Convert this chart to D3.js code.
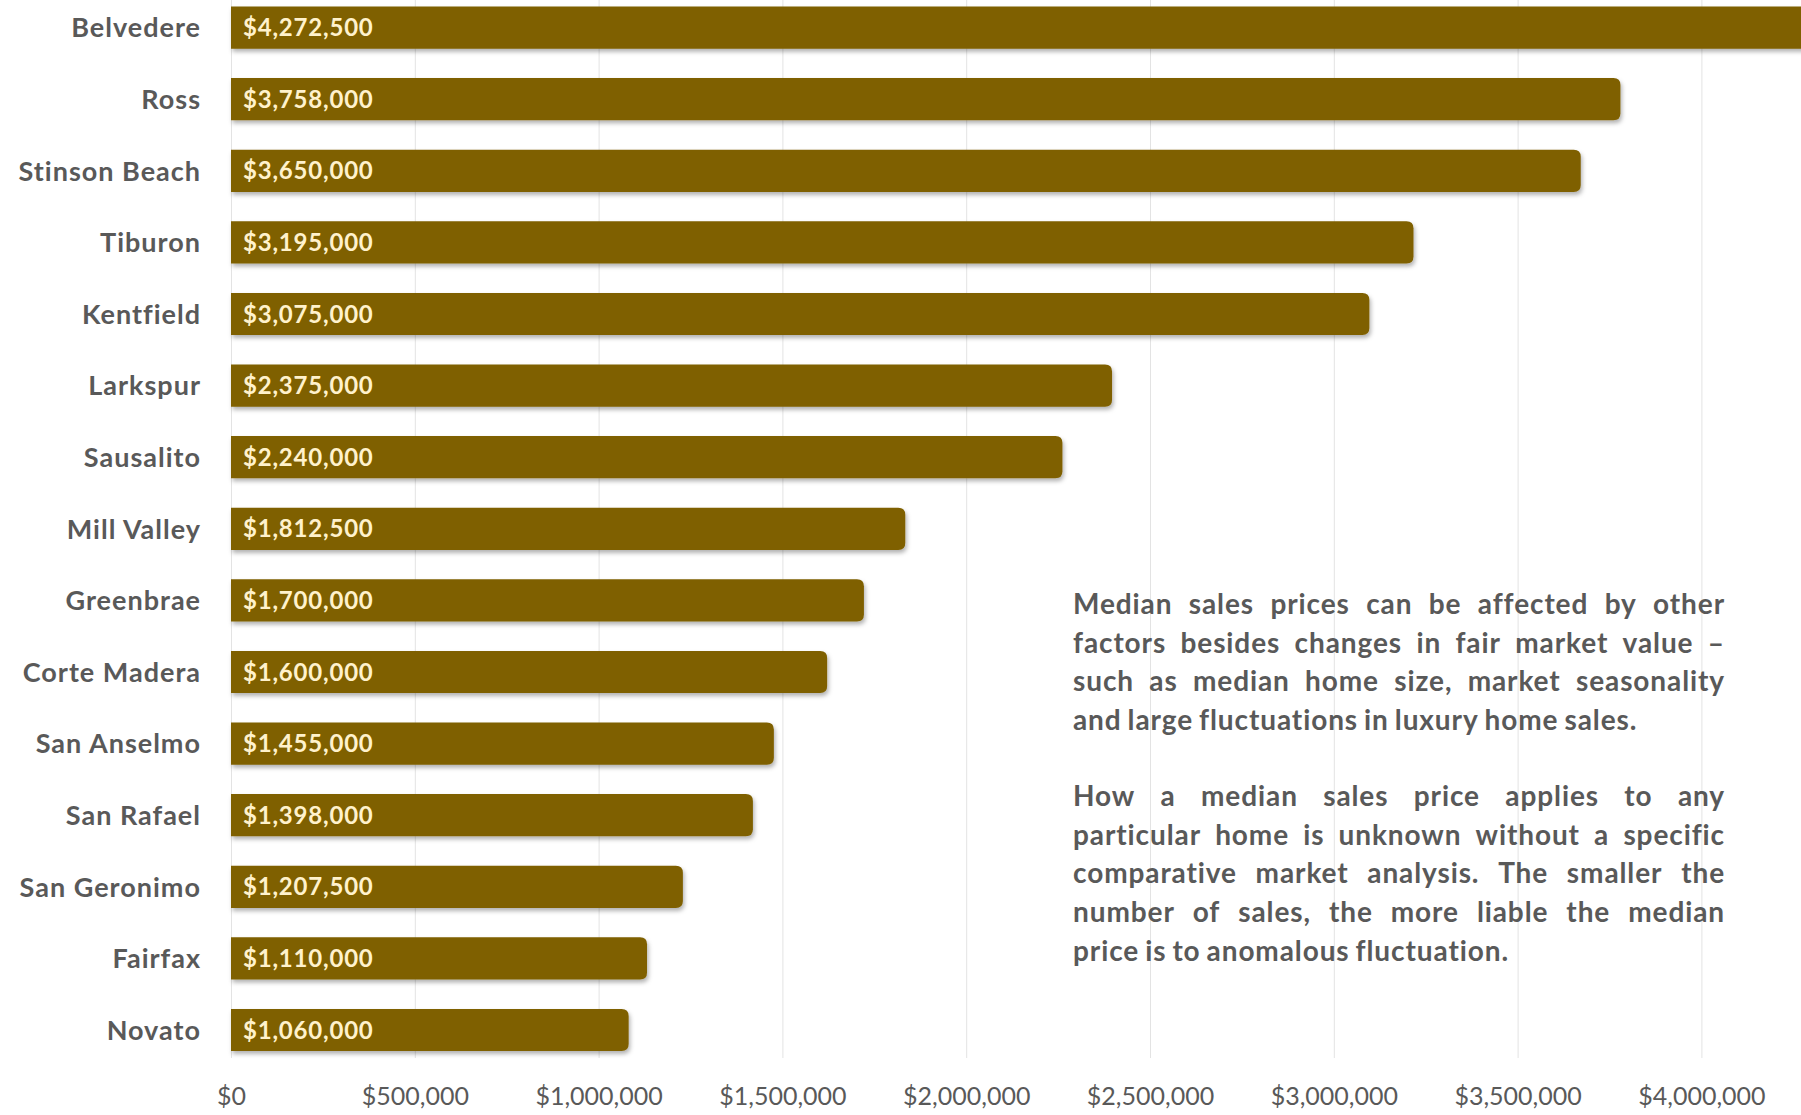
<!DOCTYPE html>
<html>
<head>
<meta charset="utf-8">
<script src="https://cdn.jsdelivr.net/npm/d3@7"></script>
<style>
  html, body { margin: 0; padding: 0; background: #fff; }
  svg { display: block; }
</style>
</head>
<body>
<svg id="chart" width="1801" height="1115"></svg>
<script>
// data
const towns = ["Belvedere", "Ross", "Stinson Beach", "Tiburon", "Kentfield", "Larkspur",
  "Sausalito", "Mill Valley", "Greenbrae", "Corte Madera", "San Anselmo", "San Rafael",
  "San Geronimo", "Fairfax", "Novato"];
const medianPrice = [4272500, 3758000, 3650000, 3195000, 3075000, 2375000,
  2240000, 1812500, 1700000, 1600000, 1455000, 1398000,
  1207500, 1110000, 1060000];
const xTicks = [0, 500000, 1000000, 1500000, 2000000, 2500000, 3000000, 3500000, 4000000];

const noteParagraphs = [
  ["Median sales prices can be affected by other",
   "factors besides changes in fair market value \u2013",
   "such as median home size, market seasonality",
   "and large fluctuations in luxury home sales."],
  ["How a median sales price applies to any",
   "particular home is unknown without a specific",
   "comparative market analysis. The smaller the",
   "number of sales, the more liable the median",
   "price is to anomalous fluctuation."]
];

const W = 1801, H = 1115;
const x0 = 231, px500k = 183.8;
const font = "Lato, 'Open Sans', sans-serif";

const svg = d3.select("#chart");

const x = d3.scaleLinear()
  .domain([0, 4500000])
  .range([x0, x0 + 9 * px500k]);

const y = d3.scaleBand(towns, [-8.2, 1065.8])
  .paddingInner(0.41)
  .paddingOuter(0.205);

const fmt = d3.format("$,.0f");

const defs = svg.append("defs");
const shadow = defs.append("filter").attr("id", "shadow")
  .attr("x", "-5%").attr("y", "-30%").attr("width", "110%").attr("height", "170%");
shadow.append("feDropShadow")
  .attr("dx", 1.5).attr("dy", 3).attr("stdDeviation", 2)
  .attr("flood-color", "#000").attr("flood-opacity", 0.3);

// grid
svg.append("g")
  .selectAll("line")
  .data(xTicks)
  .join("line")
  .attr("x1", d => x(d) + 0.5)
  .attr("x2", d => x(d) + 0.5)
  .attr("y1", 0)
  .attr("y2", 1058)
  .attr("stroke", "#e3e3e3")
  .attr("stroke-width", 1);

// bars, square left end, rounded cap on the right
const r = 7, cap = 8;
const barPath = d => {
  const xa = x(0), xb = x(d.v) + cap, yt = y(d.t), h = y.bandwidth();
  return `M${xa},${yt} H${xb - r} Q${xb},${yt} ${xb},${yt + r} V${yt + h - r} Q${xb},${yt + h} ${xb - r},${yt + h} H${xa} Z`;
};

const rows = towns.map((t, i) => ({ t, v: medianPrice[i] }));

svg.append("g")
  .selectAll("path")
  .data(rows)
  .join("path")
  .attr("d", barPath)
  .attr("fill", "#7f6000")
  .attr("filter", "url(#shadow)");

// value labels inside bars
svg.append("g")
  .selectAll("text")
  .data(rows)
  .join("text")
  .attr("x", x(0) + 12)
  .attr("y", d => y(d.t) + y.bandwidth() / 2)
  .attr("dy", "0.36em")
  .attr("fill", "#fff2cc")
  .attr("font-family", font)
  .attr("font-weight", 700)
  .attr("font-size", "24px")
  .attr("letter-spacing", "0.8px")
  .text(d => fmt(d.v));

// category labels
svg.append("g")
  .selectAll("text")
  .data(towns)
  .join("text")
  .attr("x", 201)
  .attr("y", d => y(d) + y.bandwidth() / 2)
  .attr("dy", "0.36em")
  .attr("text-anchor", "end")
  .attr("fill", "#595959")
  .attr("font-family", font)
  .attr("font-weight", 700)
  .attr("font-size", "27px")
  .attr("letter-spacing", "1px")
  .text(d => d);

// x axis labels
const xAxis = svg.append("g")
  .attr("transform", `translate(0,${1087})`)
  .call(d3.axisBottom(x).tickValues(xTicks).tickFormat(fmt).tickSize(0).tickPadding(0));
xAxis.select(".domain").remove();
xAxis.selectAll("text")
  .attr("dy", "0.71em")
  .attr("fill", "#595959")
  .attr("font-family", font)
  .attr("font-size", "25px");

// justified note
const noteLeft = 1073, noteRight = 1725, lineGap = 38.7;
const paraTops = [604, 796];
const note = svg.append("g")
  .attr("fill", "#595959")
  .attr("font-family", font)
  .attr("font-weight", 700)
  .attr("font-size", "28px")
  .attr("letter-spacing", "0.9px");

noteParagraphs.forEach((lines, p) => {
  lines.forEach((line, li) => {
    const yy = paraTops[p] + li * lineGap;
    const words = line.split(" ");
    const justify = li < lines.length - 1;
    const tmp = note.append("text").attr("visibility", "hidden");
    const widths = words.map(w => { tmp.text(w); return tmp.node().getComputedTextLength(); });
    tmp.remove();
    const space = 6;
    const total = d3.sum(widths);
    const gap = justify ? (noteRight - noteLeft - total) / (words.length - 1) : space;
    let cx = noteLeft;
    words.forEach((w, k) => {
      note.append("text")
        .attr("x", cx)
        .attr("y", yy)
        .attr("dy", "0.36em")
        .text(w);
      cx += widths[k] + gap;
    });
  });
});
</script>
</body>
</html>
